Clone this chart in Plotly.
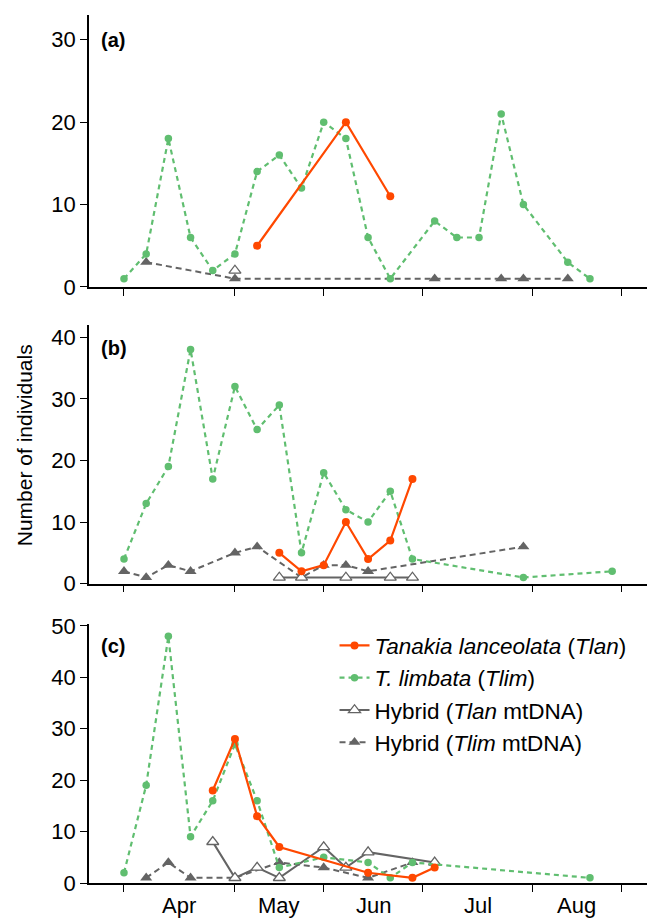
import plotly.graph_objects as go

# ---- x positions are sampling-occasion indices (regular sampling grid) ----
month_bounds = [0, 5, 9, 13.47, 18.42, 22.4]
month_labels = ["Apr", "May", "Jun", "Jul", "Aug"]

# ---- Panel (a) ----
a_tlan_x = [6, 10, 12]
a_tlan_y = [5, 20, 11]
a_tlim_x = [0, 1, 2, 3, 4, 5, 6, 7, 8, 9, 10, 11, 12, 14, 15, 16, 17, 18, 20, 21]
a_tlim_y = [1, 4, 18, 6, 2, 4, 14, 16, 12, 20, 18, 6, 1, 8, 6, 6, 21, 10, 3, 1]
a_hyb_lan_x = [5]
a_hyb_lan_y = [2]
a_hyb_lim_x = [1, 5, 14, 17, 18, 20]
a_hyb_lim_y = [3, 1, 1, 1, 1, 1]

# ---- Panel (b) ----
b_tlan_x = [7, 8, 9, 10, 11, 12, 13]
b_tlan_y = [5, 2, 3, 10, 4, 7, 17]
b_tlim_x = [0, 1, 2, 3, 4, 5, 6, 7, 8, 9, 10, 11, 12, 13, 18, 22]
b_tlim_y = [4, 13, 19, 38, 17, 32, 25, 29, 5, 18, 12, 10, 15, 4, 1, 2]
b_hyb_lan_x = [7, 8, 10, 12, 13]
b_hyb_lan_y = [1, 1, 1, 1, 1]
b_hyb_lim_x = [0, 1, 2, 3, 5, 6, 8, 9, 10, 11, 18]
b_hyb_lim_y = [2, 1, 3, 2, 5, 6, 1, 3, 3, 2, 6]

# ---- Panel (c) ----
c_tlan_x = [4, 5, 6, 7, 11, 13, 14]
c_tlan_y = [18, 28, 13, 7, 2, 1, 3]
c_tlim_x = [0, 1, 2, 3, 4, 5, 6, 7, 9, 11, 12, 13, 21]
c_tlim_y = [2, 19, 48, 9, 16, 27, 16, 3, 5, 4, 1, 4, 1]
c_hyb_lan_x = [4, 5, 6, 7, 9, 10, 11, 14]
c_hyb_lan_y = [8, 1, 3, 1, 7, 3, 6, 4]
c_hyb_lim_x = [1, 2, 3, 5, 7, 9, 11, 13]
c_hyb_lim_y = [1, 4, 1, 1, 4, 3, 1, 4]

ORANGE = "rgb(255,72,0)"
GREEN = "rgb(96,190,112)"
GREY = "rgb(100,100,100)"
FONT = "Liberation Sans, Arial, sans-serif"

names = {
    "tlan": "<i>Tanakia lanceolata</i> (<i>Tlan</i>)",
    "tlim": "<i>T. limbata</i> (<i>Tlim</i>)",
    "hlan": "Hybrid (<i>Tlan</i> mtDNA)",
    "hlim": "Hybrid (<i>Tlim</i> mtDNA)",
}
styles = {
    "tlan": dict(line=dict(color=ORANGE, width=2.2),
                 marker=dict(symbol="circle", size=8, color=ORANGE), rank=1),
    "tlim": dict(line=dict(color=GREEN, width=2.2, dash="5px,4px"),
                 marker=dict(symbol="circle", size=7.5, color=GREEN), rank=2),
    "hlan": dict(line=dict(color=GREY, width=2),
                 marker=dict(symbol="triangle-up", size=10.5, color="white",
                             line=dict(color=GREY, width=1.3)), rank=3),
    "hlim": dict(line=dict(color=GREY, width=2, dash="6px,4px"),
                 marker=dict(symbol="triangle-up", size=10.5, color=GREY), rank=4),
}

panels = [
    ("x", "y", {"hlim": (a_hyb_lim_x, a_hyb_lim_y), "hlan": (a_hyb_lan_x, a_hyb_lan_y),
                "tlim": (a_tlim_x, a_tlim_y), "tlan": (a_tlan_x, a_tlan_y)}, False),
    ("x2", "y2", {"hlim": (b_hyb_lim_x, b_hyb_lim_y), "hlan": (b_hyb_lan_x, b_hyb_lan_y),
                  "tlim": (b_tlim_x, b_tlim_y), "tlan": (b_tlan_x, b_tlan_y)}, False),
    ("x3", "y3", {"hlim": (c_hyb_lim_x, c_hyb_lim_y), "hlan": (c_hyb_lan_x, c_hyb_lan_y),
                  "tlim": (c_tlim_x, c_tlim_y), "tlan": (c_tlan_x, c_tlan_y)}, True),
]

fig = go.Figure()
for xa, ya, series, show in panels:
    for key in ["hlim", "hlan", "tlim", "tlan"]:
        xs, ys = series[key]
        st = styles[key]
        fig.add_trace(go.Scatter(
            x=xs, y=ys, mode="lines+markers", name=names[key],
            line=st["line"], marker=st["marker"], xaxis=xa, yaxis=ya,
            showlegend=show, legendrank=st["rank"], hoverinfo="skip"))

xrange = [-1.577, 23.57]
axis_common = dict(showline=True, linecolor="black", linewidth=1.5,
                   ticks="outside", ticklen=7, tickwidth=1.4, tickcolor="black",
                   showgrid=False, zeroline=False,
                   tickfont=dict(family=FONT, size=22, color="black"))

ax_x = dict(axis_common, range=xrange, tickvals=month_bounds, showticklabels=False,
            domain=[0, 1])
fig.update_layout(
    xaxis=dict(ax_x, anchor="y"),
    xaxis2=dict(ax_x, anchor="y2"),
    xaxis3=dict(ax_x, anchor="y3"),
    yaxis=dict(axis_common, range=[0, 33], tickvals=[0, 10, 20, 30],
               domain=[0.6867, 1.0], anchor="x"),
    yaxis2=dict(axis_common, range=[0, 42], tickvals=[0, 10, 20, 30, 40],
                domain=[0.3449, 0.6430], anchor="x2"),
    yaxis3=dict(axis_common, range=[0, 50.4], tickvals=[0, 10, 20, 30, 40, 50],
                domain=[0, 0.2985], anchor="x3"),
    width=652, height=922,
    margin=dict(l=89, r=5, t=5, b=39),
    plot_bgcolor="white", paper_bgcolor="white",
    font=dict(family=FONT, size=22, color="black"),
    legend=dict(x=0.44, y=0.298, xanchor="left", yanchor="top",
                font=dict(family=FONT, size=22.5, color="black"),
                bgcolor="rgba(0,0,0,0)", itemwidth=30),
)

# month labels centred between the month-boundary ticks
for i, lab in enumerate(month_labels):
    fig.add_annotation(text=lab, xref="x3", yref="paper",
                       x=(month_bounds[i] + month_bounds[i + 1]) / 2, y=-0.0254,
                       xanchor="center", yanchor="middle", showarrow=False,
                       font=dict(family=FONT, size=22, color="black"))

for lab, yy in [("(a)", 0.9715), ("(b)", 0.6164), ("(c)", 0.2731)]:
    fig.add_annotation(text="<b>" + lab + "</b>", xref="paper", yref="paper",
                       x=0.018, y=yy, xanchor="left", yanchor="middle",
                       showarrow=False, font=dict(family=FONT, size=20, color="black"))

fig.add_annotation(text="Number of individuals", xref="paper", yref="paper",
                   x=-0.1164, y=0.5044, xanchor="center", yanchor="middle",
                   textangle=-90, showarrow=False,
                   font=dict(family=FONT, size=21, color="black"))

fig.write_html("out.html")
